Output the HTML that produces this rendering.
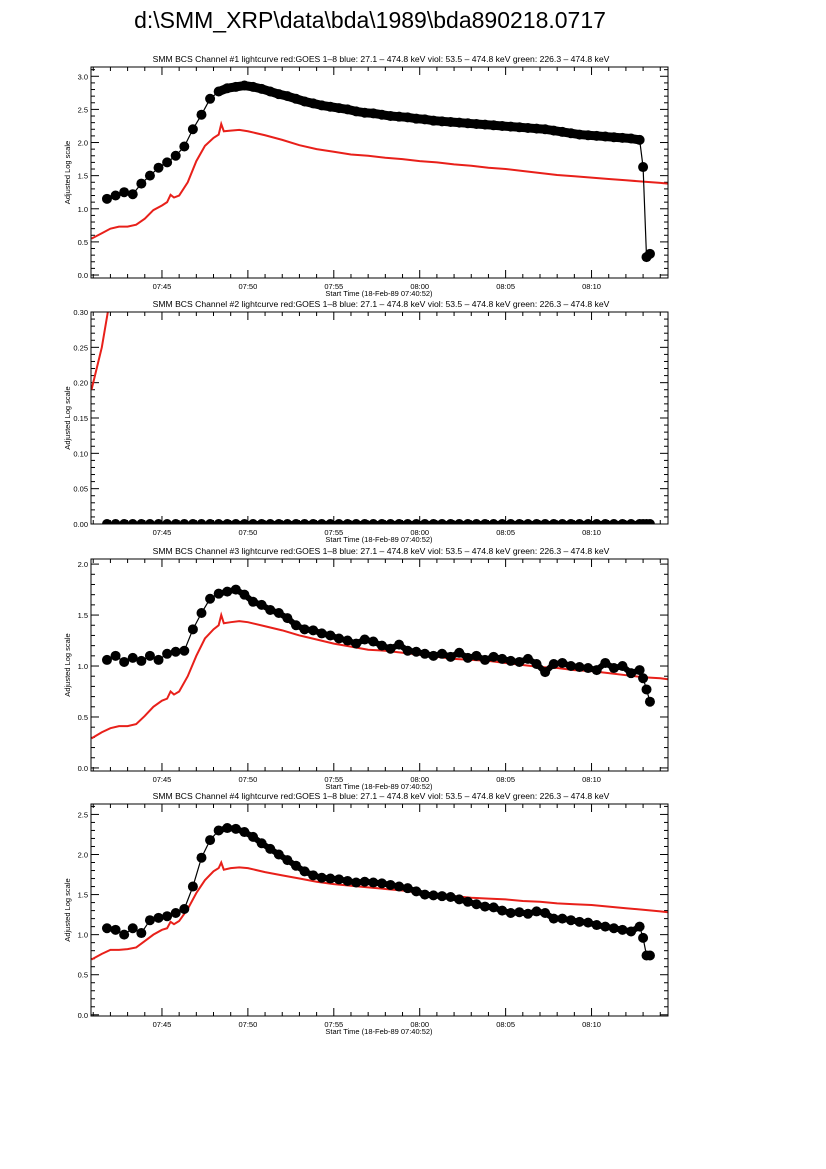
<!DOCTYPE html>
<html><head><meta charset="utf-8"><style>
body{margin:0;background:#fff;}
svg{display:block;font-family:"Liberation Sans",sans-serif;}
</style></head><body>
<svg id="fig" width="826" height="1169" viewBox="0 0 826 1169">
<text x="370" y="28" font-size="23" text-anchor="middle" fill="#000">d:\SMM_XRP\data\bda\1989\bda890218.0717</text>
</svg>
<script>
// Shared time axis (minutes after 07:40)
const blackTimes=[1.8,2.3,2.8,3.3,3.8,4.3,4.8,5.3,5.8,6.3,6.8,7.3,7.8,8.3,8.8,9.3,9.8,10.3,10.8,11.3,11.8,12.3,12.8,13.3,13.8,14.3,14.8,15.3,15.8,16.3,16.8,17.3,17.8,18.3,18.8,19.3,19.8,20.3,20.8,21.3,21.8,22.3,22.8,23.3,23.8,24.3,24.8,25.3,25.8,26.3,26.8,27.3,27.8,28.3,28.8,29.3,29.8,30.3,30.8,31.3,31.8,32.3,32.8,33.0,33.2,33.4];
const redTimes=[0.9,1.5,2.0,2.5,3.0,3.5,4.0,4.5,5.0,5.3,5.5,5.7,6.0,6.5,7.0,7.5,8.0,8.3,8.45,8.6,9.0,9.5,10,11,12,13,14,15,16,17,18,19,20,21,22,23,24,25,26,27,28,29,30,31,32,33,34,34.45];
const xTickLabels=["07:45","07:50","07:55","08:00","08:05","08:10"];
const xTickValues=[5,10,15,20,25,30];

const ch1Black=[1.15,1.2,1.25,1.22,1.38,1.5,1.62,1.7,1.8,1.94,2.2,2.42,2.66,2.77,2.82,2.84,2.86,2.84,2.81,2.77,2.73,2.7,2.66,2.62,2.59,2.56,2.54,2.52,2.5,2.47,2.45,2.44,2.42,2.4,2.39,2.38,2.36,2.35,2.33,2.32,2.31,2.3,2.29,2.28,2.27,2.26,2.25,2.24,2.23,2.22,2.21,2.2,2.18,2.16,2.14,2.12,2.11,2.1,2.09,2.08,2.07,2.06,2.04,1.63,0.27,0.32];
const ch1Red=[0.55,0.63,0.7,0.73,0.73,0.76,0.85,0.98,1.05,1.1,1.21,1.17,1.2,1.4,1.72,1.95,2.07,2.12,2.28,2.17,2.18,2.19,2.17,2.11,2.04,1.96,1.9,1.86,1.82,1.8,1.77,1.75,1.72,1.7,1.67,1.65,1.62,1.6,1.57,1.54,1.51,1.49,1.47,1.45,1.43,1.41,1.39,1.38];

const ch2Black=[0,0,0,0,0,0,0,0,0,0,0,0,0,0,0,0,0,0,0,0,0,0,0,0,0,0,0,0,0,0,0,0,0,0,0,0,0,0,0,0,0,0,0,0,0,0,0,0,0,0,0,0,0,0,0,0,0,0,0,0,0,0,0,0,0,0];
const ch2RedTimes=[0.9,1.2,1.5,1.85,2.5,3.0];
const ch2Red=[0.19,0.22,0.25,0.3,0.45,0.55];

const ch3Black=[1.06,1.1,1.04,1.08,1.05,1.1,1.06,1.12,1.14,1.15,1.36,1.52,1.66,1.71,1.73,1.75,1.7,1.63,1.6,1.55,1.52,1.47,1.4,1.36,1.35,1.32,1.3,1.27,1.25,1.22,1.26,1.24,1.2,1.17,1.21,1.15,1.14,1.12,1.1,1.12,1.09,1.13,1.08,1.1,1.06,1.09,1.07,1.05,1.04,1.07,1.02,0.94,1.02,1.03,1.0,0.99,0.98,0.96,1.03,0.98,1.0,0.93,0.96,0.88,0.77,0.65];
const ch3Red=[0.29,0.35,0.39,0.41,0.41,0.43,0.51,0.6,0.66,0.68,0.75,0.72,0.75,0.9,1.1,1.27,1.36,1.4,1.5,1.42,1.43,1.44,1.43,1.39,1.35,1.3,1.26,1.22,1.19,1.16,1.15,1.13,1.11,1.09,1.07,1.06,1.05,1.03,1.01,0.99,0.98,0.96,0.95,0.93,0.91,0.89,0.88,0.87];

const ch4Black=[1.08,1.06,1.0,1.08,1.02,1.18,1.21,1.23,1.27,1.32,1.6,1.96,2.18,2.3,2.33,2.32,2.28,2.22,2.14,2.07,2.0,1.93,1.86,1.79,1.74,1.71,1.7,1.69,1.67,1.65,1.66,1.65,1.64,1.62,1.6,1.58,1.54,1.5,1.49,1.48,1.47,1.44,1.41,1.38,1.35,1.34,1.3,1.27,1.28,1.26,1.29,1.27,1.2,1.2,1.18,1.16,1.15,1.12,1.1,1.08,1.06,1.04,1.1,0.96,0.74,0.74];
const ch4Red=[0.69,0.76,0.81,0.81,0.82,0.84,0.92,1.0,1.06,1.08,1.16,1.13,1.17,1.32,1.52,1.68,1.79,1.83,1.9,1.81,1.83,1.84,1.83,1.78,1.74,1.7,1.66,1.63,1.61,1.59,1.57,1.55,1.52,1.5,1.48,1.46,1.45,1.44,1.42,1.41,1.39,1.38,1.37,1.35,1.33,1.31,1.29,1.28];

const NS="http://www.w3.org/2000/svg";
const svg=document.getElementById('fig');
function mk(tag,attrs,parent){const e=document.createElementNS(NS,tag);for(const k in attrs)e.setAttribute(k,attrs[k]);(parent||svg).appendChild(e);return e;}
const X0=91,X1=668,TMIN=0.87,TMAX=34.45;
const xs=t=>X0+(t-TMIN)/(TMAX-TMIN)*(X1-X0);

function panel(n,top,bot,ymin,ymax,major,nminor,dec,bT,bV,rT,rV){
  const g=mk('g',{});
  
  
  const ys=v=>bot-(v-ymin)/(ymax-ymin)*(bot-top);
  const cid='clip'+n;
  const cp=mk('clipPath',{id:cid},g);mk('rect',{x:X0,y:top,width:X1-X0,height:bot-top},cp);
  const tt=mk('text',{x:381,y:top-5,'font-size':8.6,'text-anchor':'middle'},g);
  tt.textContent='SMM BCS Channel #'+n+' lightcurve  red:GOES 1\u20138  blue: 27.1 \u2013 474.8 keV  viol: 53.5 \u2013 474.8 keV  green: 226.3 \u2013 474.8 keV';
  
  
  for(let m=1;m<=34;m++){const x=xs(m);const L=(m%5===0)?8:4;
    mk('line',{x1:x,x2:x,y1:bot,y2:bot-L,stroke:'#000','stroke-width':1},g);
    mk('line',{x1:x,x2:x,y1:top,y2:top+L,stroke:'#000','stroke-width':1},g);}
  xTickValues.forEach((v,i)=>{const t=mk('text',{x:xs(v),y:bot+11,'font-size':7.5,'text-anchor':'middle'},g);t.textContent=xTickLabels[i];
    
    });
  const xl=mk('text',{x:379,y:bot+18,'font-size':7.5,'text-anchor':'middle'},g);xl.textContent='Start Time (18-Feb-89 07:40:52)';
  
  
  const step=major/nminor;
  for(let k=Math.ceil(ymin/step-1e-6);k*step<=ymax+1e-9;k++){const v=k*step,y=ys(v);const isM=Math.abs(v/major-Math.round(v/major))<1e-6;const L=isM?8:4;
    mk('line',{x1:X0,x2:X0+L,y1:y,y2:y,stroke:'#000','stroke-width':1},g);
    mk('line',{x1:X1,x2:X1-L,y1:y,y2:y,stroke:'#000','stroke-width':1},g);
    if(isM){const t=mk('text',{x:X0-3,y:y+3,'font-size':7.5,'text-anchor':'end'},g);t.textContent=v.toFixed(dec);
      
      }}
  const yl=mk('text',{x:0,y:0,'font-size':7.5,'text-anchor':'middle',transform:'translate(70,'+((top+bot)/2)+') rotate(-90)'},g);yl.textContent='Adjusted Log scale';
  
  
  const dg=mk('g',{'clip-path':'url(#'+cid+')'},g);
  const red=mk('polyline',{points:rT.map((t,i)=>xs(t)+','+ys(rV[i])).join(' '),fill:'none',stroke:'#e8201a','stroke-width':2},dg);
  
  
  const bl=mk('polyline',{points:bT.map((t,i)=>xs(t)+','+ys(bV[i])).join(' '),fill:'none',stroke:'#000','stroke-width':1.2},dg);
  
  
  // dense-sample band: thick stroke through consecutive points where the curve is smooth
  const bandPts=[];bT.forEach((t,i)=>{if(t>=8.3&&t<=32.8)bandPts.push(xs(t)+','+ys(bV[i]));});
  const band=mk('polyline',{points:bandPts.join(' '),fill:'none',stroke:'#000','stroke-width':n===1?9:6,'stroke-linejoin':'round','stroke-linecap':'round'},dg);
  
  
  bT.forEach((t,i)=>{const c=mk('circle',{cx:xs(t),cy:ys(bV[i]),r:5,fill:'#000'},dg);
    
    });
  const box=mk('rect',{x:X0,y:top,width:X1-X0,height:bot-top,fill:'none',stroke:'#000','stroke-width':1},g);
  
  
}
panel(1,67,278,-0.045,3.14,0.5,5,1,blackTimes,ch1Black,redTimes,ch1Red);
panel(2,312,524,0,0.30,0.05,5,2,blackTimes,ch2Black,ch2RedTimes,ch2Red);
panel(3,559,771,-0.03,2.05,0.5,5,1,blackTimes,ch3Black,redTimes,ch3Red);
panel(4,804,1016,-0.015,2.63,0.5,5,1,blackTimes,ch4Black,redTimes,ch4Red);
</script>
</body></html>
